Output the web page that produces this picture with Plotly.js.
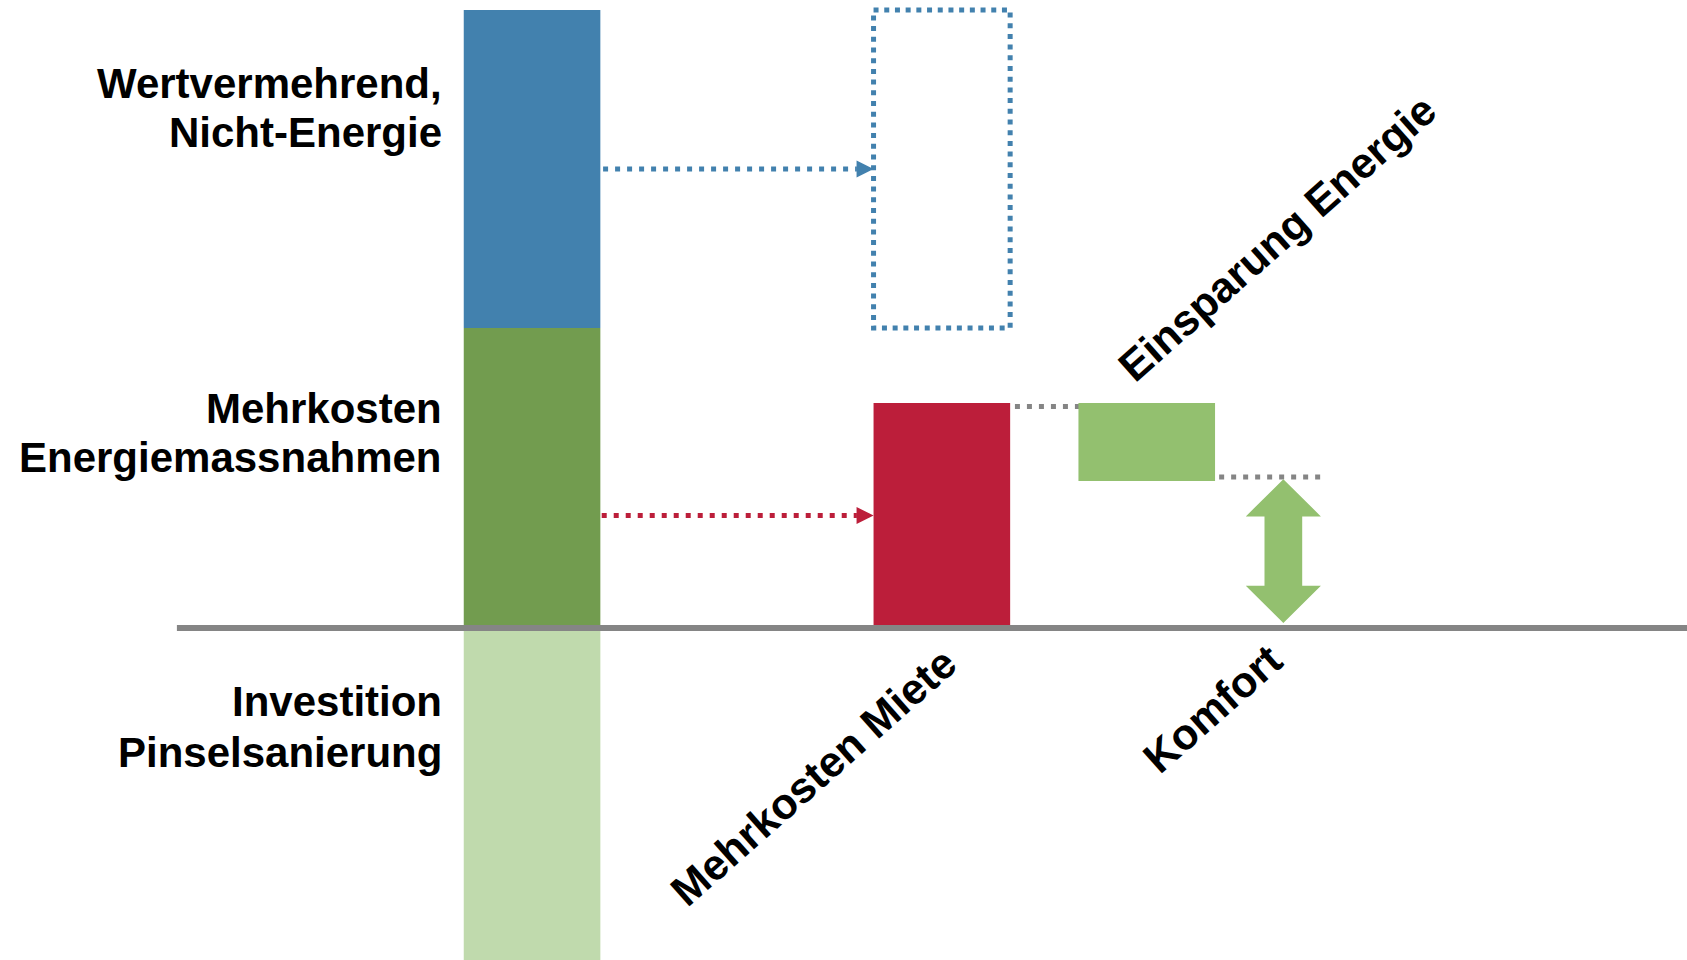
<!DOCTYPE html>
<html>
<head>
<meta charset="utf-8">
<script src="https://cdn.plot.ly/plotly-3.0.1.min.js"></script>
<style>
  html, body { margin: 0; padding: 0; background: #ffffff; }
  #chart { width: 1687px; height: 960px; }
</style>
</head>
<body>
<div id="chart"></div>
<script>
// ---------------- data (relative cost units, baseline = 0) ----------------
const stackLabels = ['Investition<br>Pinselsanierung', 'Mehrkosten<br>Energiemassnahmen', 'Wertvermehrend,<br>Nicht-Energie'];
const investitionPinsel = -115;   // runs off the bottom of the picture
const mehrkostenEnergie = 100;
const wertvermehrend = 106;

const flowLabels = ['Mehrkosten Miete', 'Einsparung Energie', 'Komfort'];
const mehrkostenMiete = 75;
const einsparungEnergie = 26;
const komfort = 49;

// ---------------- layout helpers ----------------
const slot = { stack: 0, miete: 3, einsparung: 4.5, komfort: 5.5 };
const barW = 1;
const FONT = 'Liberation Sans, Arial, Helvetica, sans-serif';
const C = {
  blue: '#4281AE', green: '#729C4F', light: '#C0DAAD',
  red: '#BC1E3A', lgreen: '#93C06F', gray: '#858585'
};

function bar(x, y, base, color) {
  return { type: 'bar', x: [x], y: [y], base: [base], width: [barW],
    marker: { color: color, line: { width: 0 } }, hoverinfo: 'skip', showlegend: false };
}

const traces = [];
traces.push(bar(slot.stack, investitionPinsel, 0, C.light));
traces.push(bar(slot.stack, mehrkostenEnergie, 0, C.green));
traces.push(bar(slot.stack, wertvermehrend, mehrkostenEnergie, C.blue));
traces.push(bar(slot.miete, mehrkostenMiete, 0, C.red));
traces.push(bar(slot.einsparung, -einsparungEnergie, mehrkostenMiete, C.lgreen));

// dotted outline: the value-adding block carried over to the rent column
const rx0 = slot.miete - barW / 2, rx1 = slot.miete + barW / 2;
const ry0 = mehrkostenEnergie, ry1 = mehrkostenEnergie + wertvermehrend;
traces.push({ type: 'scatter', mode: 'lines', x: [rx0, rx1, rx1, rx0, rx0], y: [ry1, ry1, ry0, ry0, ry1],
  line: { color: C.blue, width: 5, dash: '5px,5.7px' }, hoverinfo: 'skip', showlegend: false });

// dotted arrows from the stack to the rent column
const headLen = 0.122;
const blueY = mehrkostenEnergie + wertvermehrend / 2;
const redY = mehrkostenMiete / 2;
traces.push({ type: 'scatter', mode: 'lines', x: [slot.stack + barW / 2 + 0.02, rx0 - headLen], y: [blueY, blueY],
  line: { color: C.blue, width: 5, dash: '5px,7px' }, hoverinfo: 'skip', showlegend: false });
traces.push({ type: 'scatter', mode: 'lines', x: [slot.stack + barW / 2 + 0.01, rx0 - headLen], y: [redY, redY],
  line: { color: C.red, width: 5, dash: '5px,7px' }, hoverinfo: 'skip', showlegend: false });

// double arrow for Komfort
const cx = slot.komfort, hw = 0.275, sw = 0.138, hl = 12.4;
const yb = 1.7, yt = komfort + 0.6;
traces.push({ type: 'scatter', mode: 'lines', fill: 'toself', fillcolor: C.lgreen,
  x: [cx, cx + hw, cx + sw, cx + sw, cx + hw, cx, cx - hw, cx - sw, cx - sw, cx - hw, cx],
  y: [yt, yt - hl, yt - hl, yb + hl, yb + hl, yb, yb + hl, yb + hl, yt - hl, yt - hl, yt],
  line: { width: 0, color: C.lgreen }, hoverinfo: 'skip', showlegend: false });

// ---------------- annotations ----------------
const annotations = [];
// arrow heads
[[blueY, C.blue], [redY, C.red]].forEach(function (d) {
  annotations.push({ x: rx0, y: d[0], xref: 'x', yref: 'y', ax: -17, ay: 0, text: '',
    showarrow: true, arrowhead: 2, arrowsize: 0.85, arrowwidth: 4, arrowcolor: d[1], standoff: 0 });
});
// left labels (two lines each)
const leftY = [[-24.6, -41.5], [73.3, 56.7], [181.6, 165.2]];
stackLabels.forEach(function (lab, i) {
  lab.split('<br>').forEach(function (line, j) {
    annotations.push({ x: -0.644, y: leftY[i][j], xref: 'x', yref: 'y', text: line, showarrow: false,
      xanchor: 'right', yanchor: 'middle', font: { family: FONT, size: 42, color: '#000', weight: 'bold' } });
  });
});
// rotated labels
const rotPos = [[2.057, -49.7], [5.454, 130], [4.978, -27]];
flowLabels.forEach(function (lab, i) {
  annotations.push({ x: rotPos[i][0], y: rotPos[i][1], xref: 'x', yref: 'y', text: lab, showarrow: false,
    textangle: -41.5, xanchor: 'center', yanchor: 'middle',
    font: { family: FONT, size: 43, color: '#000', weight: 'bold' } });
});

// ---------------- shapes ----------------
const shapes = [
  // dotted connector from the rent bar to the savings bar (passes behind the bar)
  { type: 'line', xref: 'x', yref: 'y', layer: 'below', x0: slot.miete + barW / 2 + 0.035, x1: 4.61,
    y0: mehrkostenMiete - 1.2, y1: mehrkostenMiete - 1.2, line: { color: C.gray, width: 5, dash: '5px,7px' } },
  // dotted connector after the savings bar
  { type: 'line', xref: 'x', yref: 'y', layer: 'below', x0: slot.einsparung + barW / 2 + 0.03, x1: 5.82,
    y0: mehrkostenMiete - einsparungEnergie + 1.3, y1: mehrkostenMiete - einsparungEnergie + 1.3,
    line: { color: C.gray, width: 5, dash: '5px,7px' } },
  // baseline
  { type: 'line', xref: 'x', yref: 'y', layer: 'above', x0: -2.6, x1: 8.6, y0: 0, y1: 0,
    line: { color: C.gray, width: 6 } }
];

const layout = {
  width: 1687, height: 960,
  margin: { l: 0, r: 0, t: 0, b: 0, pad: 0 },
  paper_bgcolor: '#ffffff', plot_bgcolor: '#ffffff',
  barmode: 'overlay', showlegend: false,
  xaxis: { range: [-3.895, 8.455], visible: false, fixedrange: true },
  yaxis: { range: [-110.667, 209.333], visible: false, fixedrange: true },
  annotations: annotations, shapes: shapes, hovermode: false
};

Plotly.newPlot('chart', traces, layout, { staticPlot: true, displayModeBar: false });
</script>
</body>
</html>
